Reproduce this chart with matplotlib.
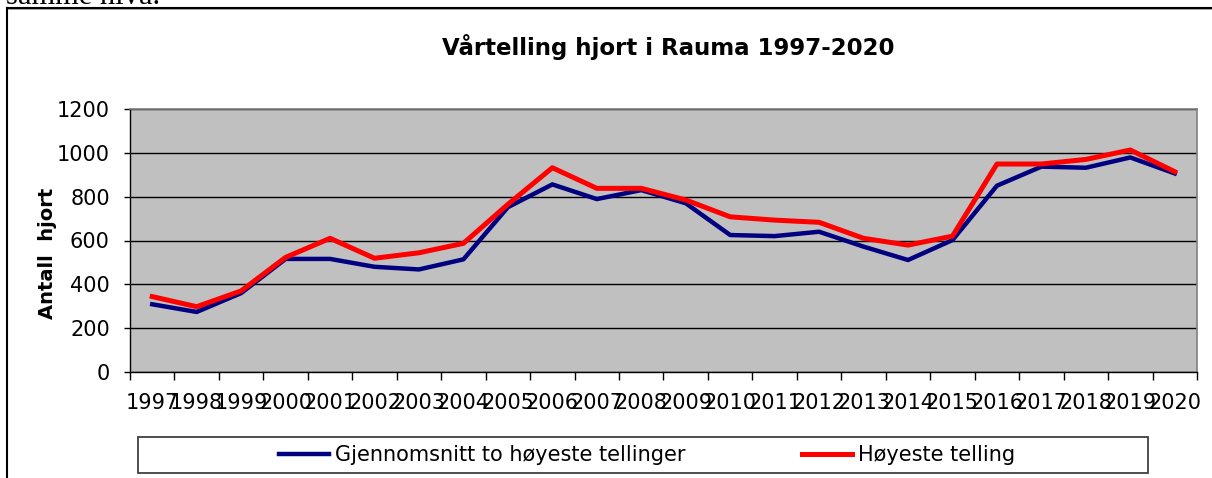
import numpy as np
import matplotlib
matplotlib.use("Agg")
import matplotlib.pyplot as plt
from matplotlib.lines import Line2D
from matplotlib.patches import Rectangle

# data
years = [str(y) for y in range(1997, 2021)]
snitt = [309, 274, 360, 516, 516, 480, 468, 514, 752, 856, 789, 830, 770, 625,
         620, 640, 572, 511, 602, 850, 937, 932, 979, 906]
hoyeste = [344, 298, 370, 523, 610, 519, 544, 587, 765, 932, 838, 838, 785, 708,
           693, 683, 610, 579, 620, 949, 949, 970, 1013, 914]
y_ticks = [0, 200, 400, 600, 800, 1000, 1200]

W, H = 1212, 478
plt.rcParams['font.family'] = ['DejaVu Sans']

fig = plt.figure(figsize=(W / 100, H / 100), dpi=100)


def fx(px):
    return px / W


def fy(py):
    return 1 - py / H


# clipped text line from the surrounding document
fig.text(fx(6), fy(4), "samme nivå.", family='Liberation Serif', fontsize=22,
         va='baseline', ha='left')

# outer chart frame (only top and left edges visible)
fig.add_artist(Line2D([fx(7), 1], [fy(9), fy(9)], color='#9a9a9a', lw=1.2))
fig.add_artist(Line2D([fx(7), 1], [fy(8), fy(8)], color='black', lw=1.5))
fig.add_artist(Line2D([fx(7), fx(7)], [fy(8), 0], color='black', lw=1.5))

left, right, top, bottom = 130, 1197, 109, 372
ax = fig.add_axes([fx(left), fy(bottom), fx(right - left), (bottom - top) / H])
ax.set_facecolor('#c0c0c0')

x = np.arange(len(years))
ax.plot(x, snitt, color='#000080', lw=3.2, solid_joinstyle='round',
        label='Gjennomsnitt to høyeste tellinger', zorder=3)
ax.plot(x, hoyeste, color='#ff0000', lw=3.6, solid_joinstyle='round',
        label='Høyeste telling', zorder=4)

ax.set_xlim(-0.5, len(years) - 0.5)
ax.set_ylim(0, 1200)
ax.set_yticks(y_ticks)
ax.set_yticklabels([str(v) for v in y_ticks])
ax.yaxis.grid(True, color='black', lw=1.0)
ax.set_axisbelow(True)

ax.set_xticks(np.arange(-0.5, len(years), 1))
ax.set_xticklabels([])
ax.set_xticks(x, minor=True)
ax.set_xticklabels(years, minor=True)
ax.tick_params(axis='x', which='major', length=6, width=1, direction='out')
ax.tick_params(axis='x', which='minor', length=0, pad=15, labelsize=15)
ax.tick_params(axis='y', length=4.5, width=1, direction='out', pad=10, labelsize=15)

for s in ['top', 'right']:
    ax.spines[s].set_color('#808080')
    ax.spines[s].set_linewidth(1.2)
for s in ['left', 'bottom']:
    ax.spines[s].set_color('black')
    ax.spines[s].set_linewidth(1.0)

ax.set_ylabel('Antall  hjort', fontsize=14, fontweight='bold')
ax.yaxis.set_label_coords(-0.068, 0.45)

fig.text(fx(668), fy(47), 'Vårtelling hjort i Rauma 1997-2020', fontsize=16.5,
         fontweight='bold', ha='center', va='center')

# legend with its own frame
fig.add_artist(Rectangle((fx(138), fy(473)), fx(1148 - 138), (473 - 437) / H,
                         fill=False, edgecolor='#404040', lw=1.3))
fig.legend(loc='center', bbox_to_anchor=(fx(647), fy(455)), ncol=2, frameon=False,
           fontsize=15, handlelength=2.4, handletextpad=0.3, columnspacing=5.6)

fig.savefig('out.png', dpi=100)
